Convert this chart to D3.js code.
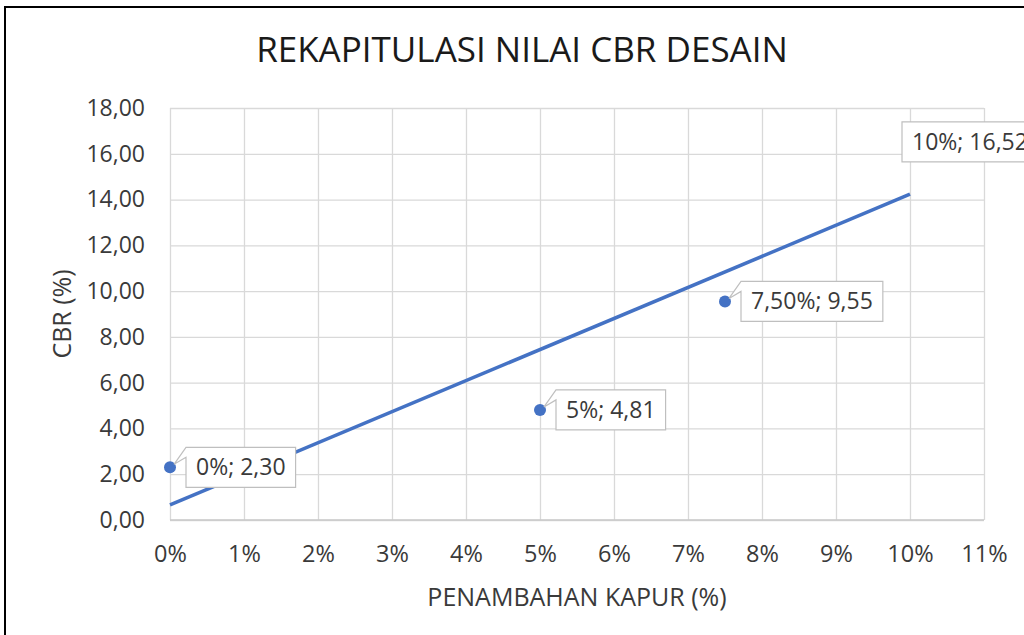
<!DOCTYPE html>
<html>
<head>
<meta charset="utf-8">
<script src="https://cdn.jsdelivr.net/npm/d3@7/dist/d3.min.js"></script>
<style>
  html, body { margin: 0; padding: 0; background: #fff; }
  svg { display: block; font-family: "Open Sans", sans-serif; }
</style>
</head>
<body>
<svg id="chart" width="1024" height="635"></svg>
<script>
// ---- data ----
const title = "REKAPITULASI NILAI CBR DESAIN";
const xTitle = "PENAMBAHAN KAPUR (%)";
const yTitle = "CBR (%)";
const xValues = [0, 0.05, 0.075, 0.10];           // penambahan kapur
const yValues = [2.30, 4.81, 9.55, 16.52];        // CBR
const xLabelText = ["0%", "5%", "7,50%", "10%"];  // x part of data labels
const xTicks = [0, 0.01, 0.02, 0.03, 0.04, 0.05, 0.06, 0.07, 0.08, 0.09, 0.10, 0.11];
const yTicks = [0, 2, 4, 6, 8, 10, 12, 14, 16, 18];

// ---- setup ----
const W = 1024, H = 635;
const svg = d3.select("#chart");
const locale = d3.formatLocale({decimal: ",", thousands: ".", grouping: [3], currency: ["", ""]});
const fmt2 = locale.format(".2f");
const fmtPct = v => Math.round(v * 100) + "%";

const x = d3.scaleLinear().domain([0, 0.11]).range([170, 984]);
const y = d3.scaleLinear().domain([0, 18]).range([520, 108]);

const textColor = "#3a3a3a";
const blue = "#4472C4";

// outer frame
svg.append("rect").attr("x", 5).attr("y", 7).attr("width", W + 20).attr("height", H + 20)
  .attr("fill", "#fff").attr("stroke", "#000").attr("stroke-width", 2);

// gridlines via axes
const gx = svg.append("g").attr("transform", `translate(0,${y(0)})`)
  .call(d3.axisBottom(x).tickValues(xTicks).tickSize(-(y(0) - y(18))).tickFormat(""));
gx.select(".domain").remove();
gx.selectAll(".tick line").attr("stroke", "#d9d9d9").attr("stroke-width", 1.3);

const gy = svg.append("g").attr("transform", `translate(${x(0)},0)`)
  .call(d3.axisLeft(y).tickValues(yTicks).tickSize(-(x(0.11) - x(0))).tickFormat(""));
gy.select(".domain").remove();
gy.selectAll(".tick line").attr("stroke", "#d9d9d9").attr("stroke-width", 1.3);

// baseline
svg.append("line").attr("x1", x(0)).attr("x2", x(0.11)).attr("y1", y(0)).attr("y2", y(0))
  .attr("stroke", "#c8c8c8").attr("stroke-width", 1.3);

// tick labels
const xl = svg.append("g").attr("transform", `translate(0,${y(0)})`)
  .call(d3.axisBottom(x).tickValues(xTicks).tickSize(0).tickPadding(0).tickFormat(fmtPct));
xl.select(".domain").remove();
xl.selectAll("text").attr("dy", null).attr("y", 42).attr("fill", textColor)
  .style("font-family", "Open Sans").style("font-size", "23.5px");

const yl = svg.append("g").attr("transform", `translate(${x(0)},0)`)
  .call(d3.axisLeft(y).tickValues(yTicks).tickSize(0).tickPadding(25).tickFormat(fmt2));
yl.select(".domain").remove();
yl.selectAll("text").attr("fill", textColor)
  .style("font-family", "Open Sans").style("font-size", "23px");

// titles
svg.append("text").attr("x", 522).attr("y", 62).attr("text-anchor", "middle")
  .attr("fill", "#1a1a1a").style("font-size", "35px").text(title);
svg.append("text").attr("x", 577).attr("y", 606).attr("text-anchor", "middle")
  .attr("fill", textColor).style("font-size", "25px").text(xTitle);
svg.append("text").attr("transform", "translate(71,314) rotate(-90)").attr("text-anchor", "middle")
  .attr("fill", textColor).style("font-size", "25px").text(yTitle);

// linear trendline (least squares of the data)
const mx = d3.mean(xValues), my = d3.mean(yValues);
const sxy = d3.sum(xValues.map((v, i) => (v - mx) * (yValues[i] - my)));
const sxx = d3.sum(xValues.map(v => (v - mx) ** 2));
const slope = sxy / sxx, intercept = my - slope * mx;
const xr = d3.extent(xValues);
svg.append("path")
  .datum(xr.map(v => [v, intercept + slope * v]))
  .attr("d", d3.line().x(d => x(d[0])).y(d => y(d[1])))
  .attr("fill", "none").attr("stroke", blue).attr("stroke-width", 3.5);

// markers
const pts = xValues.map((v, i) => ({x: v, y: yValues[i], lab: xLabelText[i] + "; " + fmt2(yValues[i])}));
svg.append("g").selectAll("circle").data(pts).join("circle")
  .attr("cx", d => x(d.x)).attr("cy", d => y(d.y)).attr("r", 6).attr("fill", blue);

// data labels (callouts)
const lg = svg.append("g");
pts.forEach(d => {
  const px = x(d.x), py = y(d.y);
  const g = lg.append("g");
  const shape = g.append("path");
  const t = g.append("text").attr("fill", textColor).style("font-size", "23px").text(d.lab);
  const tw = t.node().getComputedTextLength();
  const bw = tw + 20, bh = 40;
  let left = px + 16;
  const callout = left + bw <= W;
  if (!callout) left = px - 8;
  const top = py - 20;
  t.attr("x", left + 10).attr("y", top + 28);
  let dstr;
  if (callout) {
    dstr = `M${left},${top} L${left + bw},${top} L${left + bw},${top + bh} L${left},${top + bh} L${left},${top + 10} L${px + 4},${py - 3} Z`;
  } else {
    dstr = `M${left},${top} L${left + bw},${top} L${left + bw},${top + bh} L${left},${top + bh} Z`;
  }
  shape.attr("d", dstr).attr("fill", "#fff").attr("stroke", "#bfbfbf").attr("stroke-width", 1.2);
});
</script>
</body>
</html>
